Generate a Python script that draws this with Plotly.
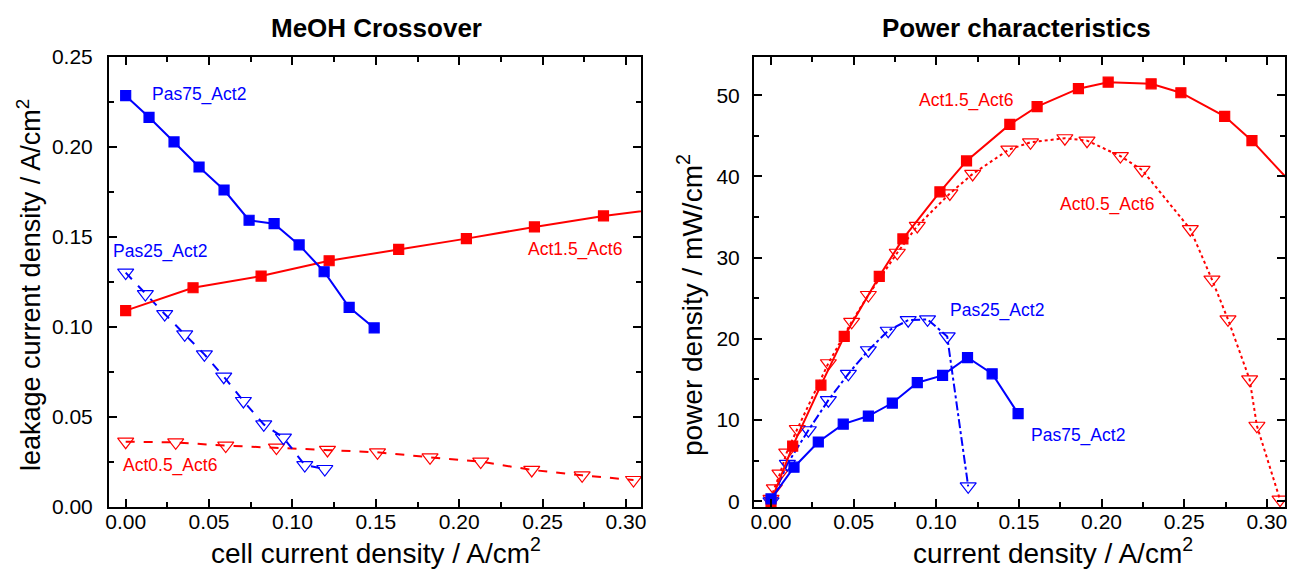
import plotly.graph_objects as go
from plotly.subplots import make_subplots

# ---- Left panel: MeOH crossover ----
pas75_x_l = [0.0, 0.014, 0.029, 0.044, 0.059, 0.074, 0.089, 0.104, 0.119, 0.134, 0.149]
pas75_y_l = [0.2285, 0.2165, 0.2028, 0.1889, 0.1761, 0.1593, 0.1574, 0.1456, 0.1307, 0.1109, 0.0995]

pas25_x_l = [0.0, 0.0118, 0.0234, 0.0354, 0.0472, 0.0588, 0.0706, 0.0828, 0.0946, 0.1074, 0.1194]
pas25_y_l = [0.1302, 0.1183, 0.1072, 0.0959, 0.0848, 0.0724, 0.0589, 0.0459, 0.0385, 0.0233, 0.0211]

act15_x_l = [0.0, 0.0404, 0.0812, 0.122, 0.1637, 0.2043, 0.2451, 0.2865, 0.328]
act15_y_l = [0.1091, 0.1218, 0.1283, 0.1368, 0.1431, 0.1491, 0.1556, 0.1617, 0.1666]

act05_x_l = [0.0, 0.030, 0.060, 0.0904, 0.121, 0.151, 0.1825, 0.2129, 0.2435, 0.2737, 0.3045]
act05_y_l = [0.0363, 0.0359, 0.0341, 0.0330, 0.0317, 0.0304, 0.0276, 0.0252, 0.0206, 0.0176, 0.0150]

# ---- Right panel: power characteristics ----
act15_x_r = [0.0, 0.0131, 0.0302, 0.0443, 0.0655, 0.0798, 0.1022, 0.1183, 0.1445, 0.161,
             0.186, 0.204, 0.230, 0.248, 0.2745, 0.291, 0.317]
act15_y_r = [0.0, 6.8, 14.3, 20.3, 27.7, 32.3, 38.1, 41.9, 46.4, 48.6,
             50.8, 51.6, 51.4, 50.3, 47.4, 44.4, 38.7]

act05_x_r = [0.0, 0.002, 0.0054, 0.0095, 0.0159, 0.0347, 0.0488, 0.0589, 0.0764, 0.0885,
             0.1082, 0.122, 0.1439, 0.157, 0.1778, 0.1912, 0.2114, 0.2245, 0.2537, 0.2668,
             0.2765, 0.2896, 0.294, 0.308]
act05_y_r = [0.3, 1.6, 3.4, 6.0, 8.9, 17.0, 22.1, 25.4, 30.6, 33.9,
             37.9, 40.3, 43.3, 44.2, 44.7, 44.4, 42.5, 40.8, 33.5, 27.3,
             22.4, 15.0, 9.3, 0.2]

pas25_x_r = [0.0, 0.0099, 0.0226, 0.0347, 0.0468, 0.0589, 0.0709, 0.083, 0.0947, 0.1066, 0.1193]
pas25_y_r = [0.0, 4.6, 8.75, 12.45, 15.7, 18.6, 21.0, 22.3, 22.4, 20.3, 1.85]

pas75_x_r = [0.0, 0.0139, 0.0286, 0.0437, 0.0589, 0.0734, 0.0885, 0.1038, 0.1189, 0.1338, 0.1495]
pas75_y_r = [0.3, 4.2, 7.3, 9.5, 10.5, 12.1, 14.6, 15.5, 17.7, 15.7, 10.8]

RED = "#ff0000"
BLUE = "#0000ff"
FONT = "Liberation Sans, Arial, sans-serif"
W, H = 1296, 577

fig = make_subplots(rows=1, cols=2)

def line(x, y, color, dash, symbol, size, col):
    fig.add_trace(go.Scatter(
        x=x, y=y, mode="lines+markers",
        line=dict(color=color, width=2, dash=dash),
        marker=dict(symbol=symbol, size=size, color=color,
                    line=dict(color=color, width=1.2)),
        showlegend=False, cliponaxis=True), row=1, col=col)

# left
line(act05_x_l, act05_y_l, RED, "dash", "triangle-down-open", 14, 1)
line(pas25_x_l, pas25_y_l, BLUE, "dash", "triangle-down-open", 14, 1)
line(act15_x_l, act15_y_l, RED, "solid", "square", 10, 1)
line(pas75_x_l, pas75_y_l, BLUE, "solid", "square", 10, 1)
# right
line(act05_x_r, act05_y_r, RED, "dot", "triangle-down-open", 14, 2)
line(pas25_x_r, pas25_y_r, BLUE, "dashdot", "triangle-down-open", 14, 2)
line(act15_x_r, act15_y_r, RED, "solid", "square", 10, 2)
line(pas75_x_r, pas75_y_r, BLUE, "solid", "square", 10, 2)

axis_common = dict(
    showline=True, linecolor="black", linewidth=2, mirror="allticks",
    ticks="inside", ticklen=8, tickwidth=2, tickcolor="black",
    showgrid=False, zeroline=False, automargin=False,
    tickfont=dict(family=FONT, size=21, color="black"),
)
minor_x = dict(ticks="inside", ticklen=5, tickwidth=1.5, dtick=0.025, tick0=0, tickcolor="black")

fig.update_xaxes(**axis_common, range=[-0.010, 0.309], dtick=0.05, tick0=0,
                 tickformat=".2f", minor=minor_x, ticklabelstandoff=-5,
                 domain=[109 / W, 641 / W], row=1, col=1)
fig.update_yaxes(**axis_common, range=[0, 0.25], dtick=0.05, tick0=0, tickformat=".2f",
                 minor=dict(ticks="inside", ticklen=5, tickwidth=1.5, dtick=0.025, tick0=0, tickcolor="black"),
                 ticklabelstandoff=10,
                 domain=[1 - 507 / H, 1 - 57 / H], row=1, col=1)
fig.update_xaxes(**axis_common, range=[-0.0103, 0.311], dtick=0.05, tick0=0,
                 tickformat=".2f", minor=minor_x, ticklabelstandoff=-5,
                 domain=[754 / W, 1285 / W], row=1, col=2)
fig.update_yaxes(**axis_common, range=[-0.7, 54.7], dtick=10, tick0=0,
                 minor=dict(ticks="inside", ticklen=5, tickwidth=1.5, dtick=5, tick0=0, tickcolor="black"),
                 ticklabelstandoff=8,
                 domain=[1 - 507 / H, 1 - 57 / H], row=1, col=2)

lab = dict(family=FONT, size=17.5)
annos = [
    ("x", "y", 0.0438, 0.2294, "Pas75_Act2", BLUE),
    ("x", "y", 0.0204, 0.1417, "Pas25_Act2", BLUE),
    ("x", "y", 0.2695, 0.1433, "Act1.5_Act6", RED),
    ("x", "y", 0.0264, 0.0228, "Act0.5_Act6", RED),
    ("x2", "y2", 0.1179, 49.4, "Act1.5_Act6", RED),
    ("x2", "y2", 0.2031, 36.5, "Act0.5_Act6", RED),
    ("x2", "y2", 0.1366, 23.5, "Pas25_Act2", BLUE),
    ("x2", "y2", 0.1856, 8.13, "Pas75_Act2", BLUE),
]
for xr, yr, xv, yv, t, c in annos:
    fig.add_annotation(xref=xr, yref=yr, x=xv, y=yv, text=t, showarrow=False,
                       xanchor="center", yanchor="middle",
                       font=dict(color=c, **lab))

def paper_text(px, py, text, size, angle=0):
    fig.add_annotation(xref="paper", yref="paper", x=px / W, y=1 - py / H, text=text,
                       showarrow=False, xanchor="center", yanchor="middle", textangle=angle,
                       font=dict(family=FONT, size=size, color="black"))

paper_text(376, 28, "<b>MeOH Crossover</b>", 26)
paper_text(1016, 28, "<b>Power characteristics</b>", 26)
paper_text(376, 551, "cell current density / A/cm<sup>2</sup>", 28)
paper_text(1053, 551, "current density / A/cm<sup>2</sup>", 28)
paper_text(29, 285, "leakage current density / A/cm<sup>2</sup>", 27, -90)
paper_text(690, 305, "power density / mW/cm<sup>2</sup>", 28, -90)

fig.update_layout(width=W, height=H, margin=dict(l=0, r=0, t=0, b=0),
                  plot_bgcolor="white", paper_bgcolor="white",
                  font=dict(family=FONT, color="black"))

fig.write_html("out.html")
